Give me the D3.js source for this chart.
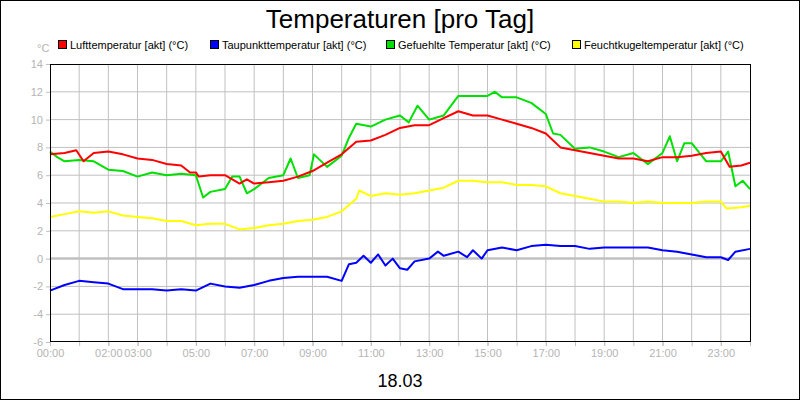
<!DOCTYPE html>
<html><head><meta charset="utf-8">
<script src="https://cdn.jsdelivr.net/npm/d3@7"></script>
<style>body{margin:0;background:#fff}svg{font-family:"Liberation Sans",Arial,sans-serif}</style>
</head><body>
<script>
var names = ["Lufttemperatur [akt] (°C)","Taupunkttemperatur [akt] (°C)","Gefuehlte Temperatur [akt] (°C)","Feuchtkugeltemperatur [akt] (°C)"];
var colors = ["#ff0000","#0000ff","#00e000","#ffff00"];
var tickHours = [0,2,3,5,7,9,11,13,15,17,19,21,23];
var yTicks = [-6,-4,-2,0,2,4,6,8,10,12,14];

var luft = [[0,7.5],[0.5,7.6],[0.9,7.8],[1.15,7.0],[1.5,7.6],[2,7.7],[2.5,7.5],[3,7.2],[3.5,7.1],[4,6.8],[4.5,6.7],[4.8,6.2],[5,6.2],[5.1,5.9],[5.5,6.0],[6,6.0],[6.5,5.4],[6.75,5.7],[7,5.4],[7.5,5.5],[8,5.6],[8.5,5.9],[9,6.3],[9.5,6.9],[10,7.5],[10.5,8.4],[11,8.5],[11.5,8.9],[12,9.4],[12.5,9.6],[13,9.6],[13.5,10.1],[14,10.6],[14.5,10.3],[15,10.3],[15.5,10.0],[16,9.7],[16.5,9.4],[17,9.0],[17.5,8.0],[18,7.8],[18.5,7.6],[19,7.4],[19.5,7.2],[20,7.2],[20.5,7.0],[21,7.3],[21.5,7.3],[22,7.4],[22.5,7.6],[23,7.7],[23.3,6.6],[23.7,6.7],[24,6.9]];
var taupunkt = [[0,-2.3],[0.5,-1.9],[1,-1.6],[1.5,-1.7],[2,-1.8],[2.5,-2.2],[3,-2.2],[3.5,-2.2],[4,-2.3],[4.5,-2.2],[5,-2.3],[5.5,-1.8],[6,-2.0],[6.5,-2.1],[7,-1.9],[7.5,-1.6],[8,-1.4],[8.5,-1.3],[9,-1.3],[9.5,-1.3],[10,-1.6],[10.25,-0.4],[10.5,-0.3],[10.75,0.2],[11,-0.3],[11.25,0.3],[11.5,-0.5],[11.75,0.0],[12,-0.7],[12.25,-0.8],[12.5,-0.2],[13,0.0],[13.3,0.5],[13.5,0.2],[14,0.5],[14.3,0.1],[14.5,0.6],[14.8,0.0],[15,0.6],[15.5,0.8],[16,0.6],[16.5,0.9],[17,1.0],[17.5,0.9],[18,0.9],[18.5,0.7],[19,0.8],[19.5,0.8],[20,0.8],[20.5,0.8],[21,0.6],[21.5,0.5],[22,0.3],[22.5,0.1],[23,0.1],[23.25,-0.1],[23.5,0.5],[24,0.7]];
var gefuehlt = [[0,7.7],[0.25,7.3],[0.5,7.0],[1,7.1],[1.5,7.0],[2,6.4],[2.5,6.3],[3,5.9],[3.5,6.2],[4,6.0],[4.5,6.1],[5,6.0],[5.25,4.4],[5.5,4.8],[6,5.0],[6.25,5.9],[6.5,5.9],[6.75,4.7],[7,5.0],[7.5,5.8],[8,6.0],[8.25,7.2],[8.5,5.8],[8.9,6.0],[9.05,7.5],[9.5,6.6],[10,7.4],[10.25,8.7],[10.5,9.7],[11,9.5],[11.5,10.0],[12,10.3],[12.3,9.8],[12.6,11.0],[13,10.0],[13.5,10.3],[14,11.7],[14.5,11.7],[15,11.7],[15.25,12.0],[15.5,11.6],[16,11.6],[16.5,11.2],[17,10.4],[17.25,9.0],[17.5,8.9],[18,7.9],[18.5,8.0],[19,7.7],[19.5,7.3],[20,7.6],[20.5,6.8],[21,7.6],[21.25,8.8],[21.5,7.0],[21.75,8.3],[22,8.3],[22.5,7.0],[23,7.0],[23.25,7.7],[23.5,5.2],[23.75,5.6],[24,5.0]];
var feuchtkugel = [[0,3.0],[0.5,3.2],[1,3.4],[1.5,3.3],[2,3.4],[2.5,3.1],[3,3.0],[3.5,2.9],[4,2.7],[4.5,2.7],[5,2.4],[5.5,2.5],[6,2.5],[6.5,2.1],[7,2.2],[7.5,2.4],[8,2.5],[8.5,2.7],[9,2.8],[9.5,3.0],[10,3.4],[10.5,4.3],[10.6,4.9],[11,4.5],[11.5,4.7],[12,4.6],[12.5,4.7],[13,4.9],[13.5,5.1],[14,5.6],[14.5,5.6],[15,5.5],[15.5,5.5],[16,5.3],[16.5,5.3],[17,5.2],[17.5,4.7],[18,4.5],[18.5,4.3],[19,4.1],[19.5,4.1],[20,4.0],[20.5,4.1],[21,4.0],[21.5,4.0],[22,4.0],[22.5,4.1],[23,4.1],[23.2,3.6],[23.7,3.7],[24,3.8]];
var series = [luft, taupunkt, gefuehlt, feuchtkugel];
var drawOrder = [1,3,2,0];

var svg = d3.select("body").append("svg").attr("width",800).attr("height",400);
svg.append("rect").attr("x",0.5).attr("y",0.5).attr("width",799).attr("height",399).attr("fill","#fff").attr("stroke","#000");

var x = d3.scaleLinear().domain([0,24]).range([50,750]);
var y = d3.scaleLinear().domain([-6,14]).range([342,64]);

var g = svg.append("g");
g.selectAll(".vg").data(d3.range(1,24)).enter().append("line")
  .attr("x1",d=>x(d)).attr("x2",d=>x(d)).attr("y1",64).attr("y2",342)
  .attr("stroke","#c0c0c0");
g.selectAll(".hg").data(yTicks.filter(d=>d>-6&&d<14)).enter().append("line")
  .attr("x1",50).attr("x2",750).attr("y1",d=>y(d)).attr("y2",d=>y(d))
  .attr("stroke","#c0c0c0").attr("stroke-width",d=>d===0?2.5:1);

var xAxis = svg.append("g").attr("transform","translate(0,342)")
  .call(d3.axisBottom(x).tickValues(tickHours).tickSize(4)
    .tickFormat(d=>(d<10?"0":"")+d+":00"));
xAxis.append("g").call(d3.axisBottom(x).tickValues(d3.range(0,25)).tickSize(4).tickFormat(""));
var yAxis = svg.append("g").attr("transform","translate(50,0)")
  .call(d3.axisLeft(y).tickValues(yTicks).tickSize(4).tickFormat(d=>String(d)));
svg.selectAll(".domain").remove();
svg.selectAll(".tick line").attr("stroke","#c0c0c0");
svg.selectAll(".tick text").attr("fill","#b4b4b4").style("font-size","11px").style("font-family","Liberation Sans, Arial");

var line = d3.line().x(d=>x(d[0])).y(d=>y(d[1]));
drawOrder.forEach(function(i){
  svg.append("path").datum(series[i]).attr("d",line)
    .attr("fill","none").attr("stroke",colors[i]).attr("stroke-width",2).attr("stroke-linejoin","round");
});

svg.append("rect").attr("x",50.5).attr("y",64.5).attr("width",700).attr("height",277)
  .attr("fill","none").attr("stroke","#000");

svg.append("text").attr("x",400).attr("y",28).attr("text-anchor","middle")
  .style("font-size","26px").text("Temperaturen [pro Tag]");
svg.append("text").attr("x",400).attr("y",387).attr("text-anchor","middle")
  .style("font-size","18px").text("18.03");
svg.append("text").attr("x",37).attr("y",52).attr("fill","#b4b4b4").style("font-size","11px").text("°C");

var legX = [58,210,386,572];
var leg = svg.selectAll(".leg").data(names).enter().append("g")
  .attr("transform",(d,i)=>"translate("+legX[i]+",40)");
leg.append("rect").attr("x",0.5).attr("y",0.5).attr("width",8).attr("height",8)
  .attr("fill",(d,i)=>colors[i]).attr("stroke","#000");
leg.append("text").attr("x",12).attr("y",8.5).style("font-size","11px").text(d=>d);
</script>
</body></html>
